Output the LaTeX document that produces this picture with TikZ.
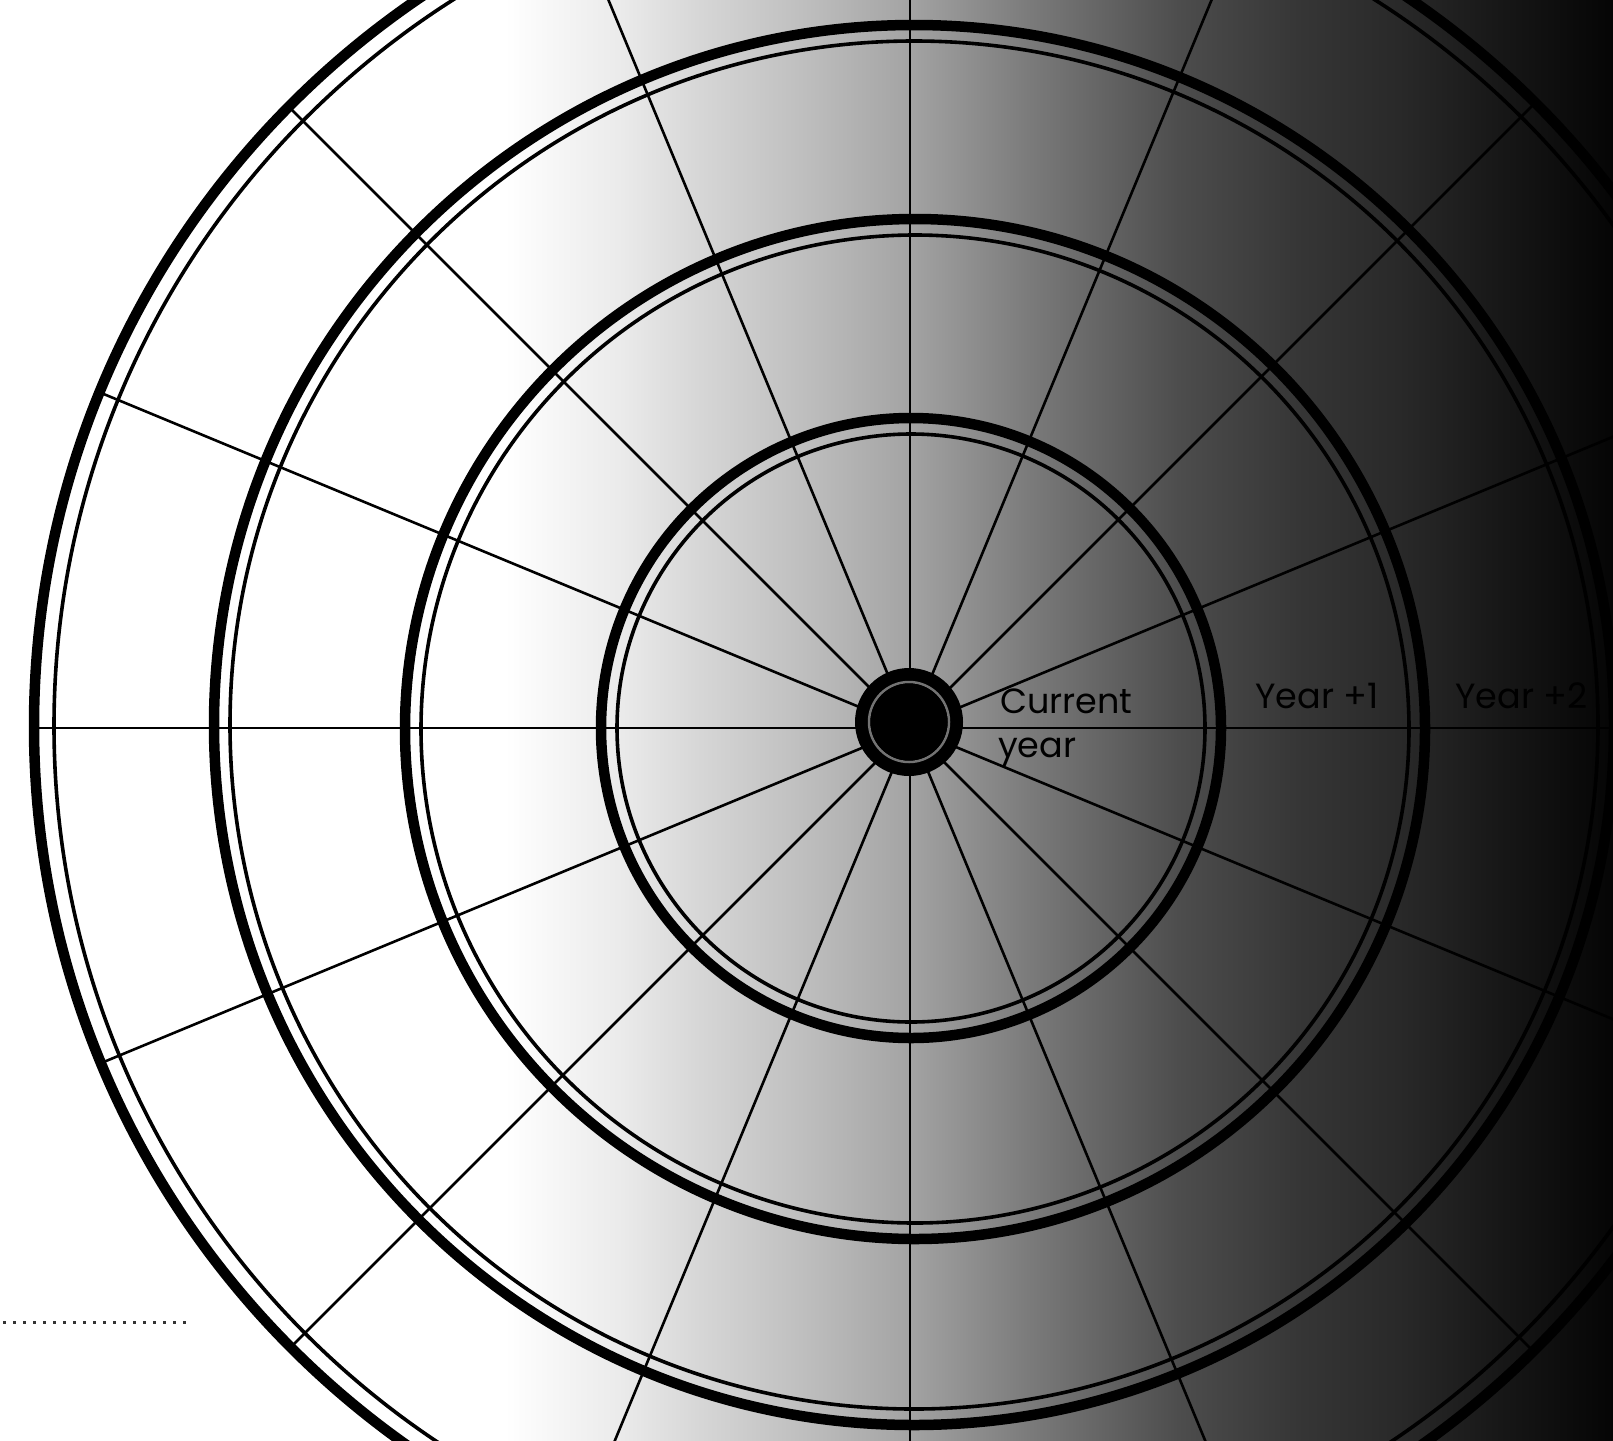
\documentclass[tikz,border=0pt]{standalone}
\usepackage{fontspec}
\setmainfont{Poppins}
\pgfdeclarehorizontalshading{bgshade}{100bp}{color(0bp)=(white); color(25bp)=(white); color(40.654bp)=(white); color(42.204bp)=(black!3.5); color(44.219bp)=(black!8); color(46.699bp)=(black!16); color(49.799bp)=(black!25); color(53.208bp)=(black!36); color(56.928bp)=(black!52); color(60.028bp)=(black!64); color(61.578bp)=(black!70); color(65.298bp)=(black!79); color(68.397bp)=(black!84); color(71.497bp)=(black!91); color(75bp)=(black!98); color(100bp)=(black!98)}
\tikzset{
  spoke/.style={line width=2.6pt, black},
  ringthick/.style={line width=10.5pt, black},
  ringthin/.style={line width=3.6pt, black},
  lbl/.style={inner sep=0pt, anchor=base west, font=\fontsize{35}{42}\selectfont, text=black},
  dots/.style={line width=3pt, dash pattern=on 3pt off 7pt, black!80},
}
\begin{document}
\begin{tikzpicture}[x=1pt,y=-1pt]
\useasboundingbox (0,0) rectangle (1613,1440);
\clip (0,0) rectangle (1613,1440);
\shade[shading=bgshade] (0,0) rectangle (1613,1440);
% centres
\coordinate (hub) at (910,728);
\coordinate (c1) at (911,728);
\coordinate (c2) at (915,729);
\coordinate (c3) at (914,725);
\coordinate (c4) at (914,726);
\coordinate (dot) at (909,722);
% spokes
\foreach \a in {0,22.5,...,337.5} \draw[spoke] (hub) -- ++(\a:880);
% rings
\draw[ringthick] (c1) circle (310);
\draw[ringthin] (c1) circle (294);
\draw[ringthick] (c2) circle (510);
\draw[ringthin] (c2) circle (494);
\draw[ringthick] (c3) circle (700);
\draw[ringthin] (c3) circle (684);
\draw[ringthick] (c4) circle (880);
\draw[ringthin] (c4) circle (860);
% central dot
\fill[black] (dot) circle (54);
\draw[black!55, line width=2.5pt] (dot) circle (40);
\fill[black] (dot) circle (38.5);
% labels
\node[lbl] (cur) at (1000,713) {Current};
\node[lbl] (yr) at (998,757) {year};
\node[lbl] (y1) at (1255,708) {Year +1};
\node[lbl] (y2) at (1455,708) {Year +2};
% dotted line
\coordinate (dA) at (3,1322);
\coordinate (dB) at (190,1322);
\draw[dots] (dA) -- (dB);
\end{tikzpicture}
\end{document}
